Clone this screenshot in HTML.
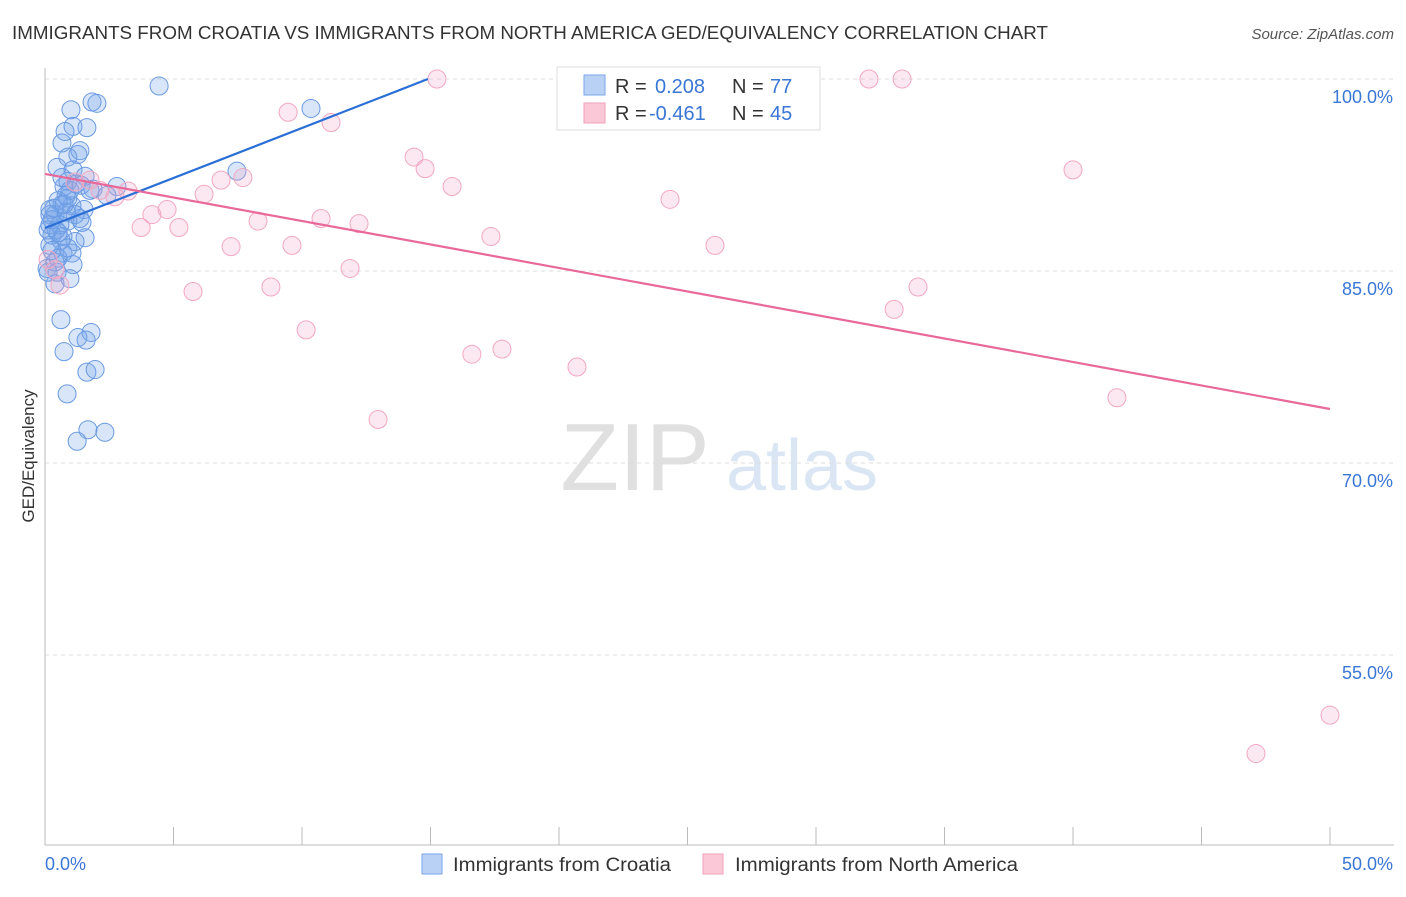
<!DOCTYPE html>
<html><head><meta charset="utf-8">
<style>
body{margin:0;background:#fff;font-family:"Liberation Sans",sans-serif;}
svg text{font-family:"Liberation Sans",sans-serif;}
</style></head>
<body>
<svg id="chart" width="1406" height="892" xmlns="http://www.w3.org/2000/svg">
<text x="12" y="39" font-size="18" fill="#333" textLength="1036" lengthAdjust="spacingAndGlyphs">IMMIGRANTS FROM CROATIA VS IMMIGRANTS FROM NORTH AMERICA GED/EQUIVALENCY CORRELATION CHART</text>
<text x="1394" y="39" font-size="15" fill="#555" text-anchor="end" font-style="italic">Source: ZipAtlas.com</text>
<g>
<text x="635" y="490" font-size="96" fill="#e0e0e0" font-family="Liberation Serif" text-anchor="middle">ZIP</text>
<text x="802" y="490" font-size="72" fill="#dbe6f5" text-anchor="middle">atlas</text>
</g>
<g id="grid"></g>
<g id="axes"></g>
<g id="points"></g>
<g id="trends"></g>
<text transform="translate(34,456) rotate(-90)" font-size="17" fill="#333" text-anchor="middle">GED/Equivalency</text>
<g>
<rect x="557" y="67" width="263" height="63" fill="#fff" stroke="#ddd"/>
<rect x="584" y="75" width="21" height="20" fill="#b9d1f5" stroke="#7aa6e8"/>
<rect x="584" y="103" width="21" height="20" fill="#fbc8d7" stroke="#f0a0b8"/>
<text x="615" y="93" font-size="20" fill="#333">R = </text><text x="655" y="93" font-size="20" fill="#3a76d6">0.208</text>
<text x="732" y="93" font-size="20" fill="#333">N = </text><text x="770" y="93" font-size="20" fill="#3a76d6">77</text>
<text x="615" y="120" font-size="20" fill="#333">R = </text><text x="649" y="120" font-size="20" fill="#3a76d6">-0.461</text>
<text x="732" y="120" font-size="20" fill="#333">N = </text><text x="770" y="120" font-size="20" fill="#3a76d6">45</text>
</g>
<g>
<rect x="422" y="854" width="20" height="20" fill="#b9d1f5" stroke="#7aa6e8"/>
<text x="453" y="871" font-size="19" fill="#333" textLength="218" lengthAdjust="spacingAndGlyphs">Immigrants from Croatia</text>
<rect x="703" y="854" width="20" height="20" fill="#fbc8d7" stroke="#f0a0b8"/>
<text x="735" y="871" font-size="19" fill="#333" textLength="283" lengthAdjust="spacingAndGlyphs">Immigrants from North America</text>
</g>
</svg>
<script>
const blueX=[4.44,1.83,2.02,1.01,10.35,1.09,1.63,0.78,0.66,1.36,0.89,1.28,0.47,1.09,1.56,0.89,0.74,1.40,2.80,1.87,2.41,7.47,0.89,1.05,1.52,0.66,0.19,0.39,1.36,0.89,0.19,0.43,0.27,0.62,1.56,1.17,0.19,0.70,1.05,0.51,1.09,0.08,0.47,0.97,0.39,0.62,1.79,1.28,1.60,0.74,1.63,1.95,0.86,1.67,2.33,1.25,0.19,0.12,0.27,0.51,0.82,0.58,0.12,0.39,0.97,1.17,1.75,0.70,0.89,1.44,0.35,0.82,0.66,1.21,0.74,0.27,0.51];
const blueY=[99.45,98.2,98.1,97.6,97.7,96.3,96.2,95.9,95.0,94.4,93.9,94.1,93.1,92.9,92.4,92.0,91.6,91.7,91.6,91.4,90.9,92.8,90.7,90.1,89.8,90.2,89.8,89.4,89.1,88.9,88.6,88.2,87.8,87.4,87.6,87.3,87.0,86.4,86.4,86.0,85.5,85.2,84.9,84.4,84.0,81.2,80.2,79.8,79.6,78.7,77.1,77.3,75.4,72.6,72.4,71.7,89.4,88.2,89.0,90.5,89.6,88.6,84.9,85.7,91.3,89.4,91.3,87.7,86.8,88.8,89.9,90.9,92.3,91.8,90.2,86.6,88.0];
const pinkX=[15.25,32.06,33.35,9.46,11.13,14.36,14.79,40.0,15.84,7.70,6.85,6.19,3.23,1.75,2.72,24.32,4.75,4.16,3.74,5.21,8.29,10.74,12.22,17.35,7.24,9.61,26.07,11.87,5.76,8.79,33.97,33.04,10.16,16.61,17.78,20.70,12.96,41.71,50.0,47.12,0.39,0.58,0.12,1.17,2.14];
const pinkY=[100,100,100,97.4,96.6,93.9,93.0,92.9,91.6,92.3,92.1,91.0,91.25,92.1,90.8,90.6,89.8,89.4,88.4,88.4,88.9,89.1,88.7,87.7,86.9,87.0,87.0,85.2,83.4,83.75,83.75,82.0,80.4,78.5,78.9,77.5,73.4,75.1,50.3,47.3,85.1,83.9,85.9,91.95,91.3];
const blueTrend=[0,88.36,14.9,100];
const pinkTrend=[0,92.58,50,74.22];
const yTicks=[100,85,70,55];
const yTickLabels=["100.0%","85.0%","70.0%","55.0%"];
const xTicks=[0,5,10,15,20,25,30,35,40,45,50];
const xEndLabels=["0.0%","50.0%"];

const NS="http://www.w3.org/2000/svg";
const sx=v=>45+v*25.7;
const sy=v=>79+(100-v)*12.8;
function mk(tag,attrs,parent){const e=document.createElementNS(NS,tag);for(const k in attrs)e.setAttribute(k,attrs[k]);document.getElementById(parent).appendChild(e);return e;}
yTicks.forEach((t,i)=>{
 const l=mk('line',{x1:45,x2:1394,y1:sy(t),y2:sy(t),stroke:'#ddd','stroke-dasharray':'4,4'},'grid');
 
 
 const tx=mk('text',{x:1393,y:sy(t)+24,'font-size':18,fill:'#3a76d6','text-anchor':'end'},'grid');
 tx.textContent=yTickLabels[i];
 
 
});
const ax=mk('line',{x1:45,x2:45,y1:68,y2:845,stroke:'#bbb'},'axes');


const bx=mk('line',{x1:45,x2:1394,y1:845,y2:845,stroke:'#bbb'},'axes');


xTicks.forEach(t=>{
 const l=mk('line',{x1:sx(t),x2:sx(t),y1:827,y2:845,stroke:'#bbb'},'axes');
 
 
});
const xl0=mk('text',{x:45,y:870,'font-size':18,fill:'#3a76d6'},'axes');xl0.textContent=xEndLabels[0];


const xl1=mk('text',{x:1393,y:870,'font-size':18,fill:'#3a76d6','text-anchor':'end'},'axes');xl1.textContent=xEndLabels[1];


blueX.forEach((v,i)=>{
 const c=mk('circle',{cx:sx(v),cy:sy(blueY[i]),r:9,fill:'rgba(120,165,235,0.28)',stroke:'#6a9ae3','stroke-width':1},'points');
 
 
});
pinkX.forEach((v,i)=>{
 const c=mk('circle',{cx:sx(v),cy:sy(pinkY[i]),r:9,fill:'rgba(245,165,195,0.25)',stroke:'#f2a8c0','stroke-width':1},'points');
 
 
});
const bt=mk('line',{x1:sx(blueTrend[0]),y1:sy(blueTrend[1]),x2:sx(blueTrend[2]),y2:sy(blueTrend[3]),stroke:'#2a6fd6','stroke-width':2.2},'trends');


const pt=mk('line',{x1:sx(pinkTrend[0]),y1:sy(pinkTrend[1]),x2:sx(pinkTrend[2]),y2:sy(pinkTrend[3]),stroke:'#e8699a','stroke-width':2.2},'trends');


</script>
</body></html>
